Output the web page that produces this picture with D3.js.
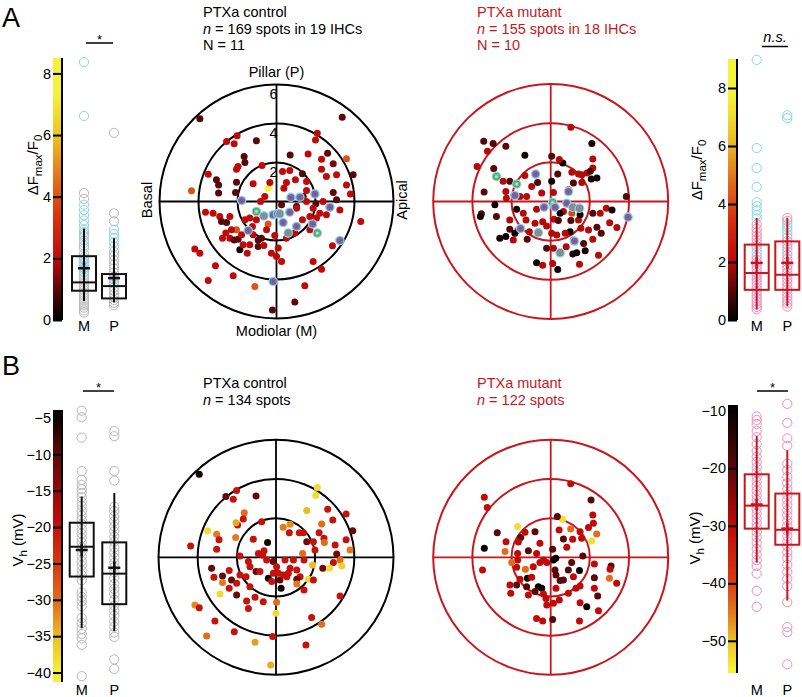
<!DOCTYPE html>
<html><head><meta charset="utf-8">
<script src="https://cdn.jsdelivr.net/npm/d3@7/dist/d3.min.js"></script>
<style>body{margin:0;background:#fff} svg text{font-family:"Liberation Sans",Arial,sans-serif}</style>
</head><body><svg id="c" width="802" height="697"></svg>
<script>
// ---------------- DATA ----------------
const boxCategories = ["M", "P"];
const dfTicks = [0, 2, 4, 6, 8];
const vhTicksCtrl = [-5, -10, -15, -20, -25, -30, -35, -40];
const vhTicksMut = [-10, -20, -30, -40, -50];
const ringValues = [2, 4, 6];

// box stats: [q1, median, q3, mean, whiskerLow, whiskerHigh]
const boxActrlM = [0.95, 1.22, 2.07, 1.68, 0.62, 2.97];
const boxActrlP = [0.70, 1.10, 1.49, 1.36, 0.57, 2.65];
const boxAmutM = [1.04, 1.62, 2.60, 1.97, 0.36, 3.52];
const boxAmutP = [1.04, 1.56, 2.71, 1.97, 0.47, 3.53];
const boxBctrlM = [-26.8, -22.7, -19.4, -23.15, -33.9, -15.8];
const boxBctrlP = [-30.6, -26.4, -22.1, -25.6, -34.3, -15.3];
const boxBmutM = [-30.5, -26.5, -21.05, -26.3, -36.4, -14.4];
const boxBmutP = [-33.3, -30.7, -24.4, -30.5, -43.0, -16.9];

// individual spots in box plots
const dfCtrlM_gray = [4.12, 3.93, 2.85, 2.72, 2.58, 2.41, 2.33, 2.15, 2.04, 1.95, 1.83, 1.7, 1.55, 1.46, 1.38, 1.3, 1.21, 1.12, 1.04, 0.96, 0.88, 0.8, 0.72, 0.64, 0.55, 0.47, 0.4, 0.31, 0.24];
const dfCtrlM_cyan = [8.37, 6.62, 3.74, 3.57, 3.4, 3.23, 3.08, 2.93, 2.78, 2.5, 1.98, 1.86, 1.76, 1.64, 1.55];
const dfCtrlP_gray = [6.07, 3.46, 3.2, 2.22, 2.08, 1.94, 1.8, 1.67, 1.54, 1.42, 1.3, 1.18, 1.06, 0.95, 0.84, 0.74, 0.65, 0.56, 0.48];
const dfCtrlP_cyan = [2.93, 2.79, 2.66, 2.52, 2.38, 1.35, 1.23];
const dfMutM_pink = [3.3, 3.15, 3.02, 2.9, 2.78, 2.66, 2.55, 2.2, 2.08, 1.97, 1.85, 1.74, 1.63, 1.52, 1.41, 1.3, 1.19, 1.08, 0.97, 0.86, 0.75, 0.64, 0.54, 0.45, 0.37];
const dfMutM_cyan = [8.97, 5.93, 5.24, 4.59, 4.06, 3.92, 3.78, 3.62, 3.5, 2.45, 2.32];
const dfMutP_pink = [3.52, 3.42, 2.85, 2.72, 2.6, 2.48, 2.25, 2.12, 2.0, 1.88, 1.76, 1.64, 1.52, 1.4, 1.28, 1.16, 1.04, 0.92, 0.8, 0.68, 0.57, 0.46];
const dfMutP_cyan = [7.06, 6.96, 3.3, 3.2, 3.1, 2.96, 2.36];
const vhCtrlM = [-4.0, -4.9, -7.7, -12.3, -13.5, -14.2, -14.8, -15.3, -15.9, -16.5, -17.1, -17.8, -18.4, -19.0, -19.6, -20.3, -20.9, -21.5, -22.1, -22.8, -23.4, -24.0, -24.7, -25.3, -26.0, -26.6, -27.3, -29.0, -29.6, -30.2, -30.9, -32.5, -33.2, -34.0, -34.7, -35.3, -36.2, -40.5];
const vhCtrlP = [-6.8, -7.5, -12.3, -13.6, -17.2, -17.8, -18.5, -19.2, -19.9, -20.6, -21.3, -22.0, -22.8, -23.5, -24.2, -24.9, -25.5, -26.2, -27.0, -27.8, -28.5, -29.2, -30.0, -30.8, -31.5, -32.2, -33.0, -33.7, -34.5, -35.1, -38.2, -39.5];
const vhMutM = [-11.0, -11.6, -12.3, -13.5, -14.6, -15.8, -17.0, -18.0, -18.9, -19.8, -20.7, -21.5, -22.3, -23.1, -23.9, -24.7, -25.5, -26.3, -27.1, -27.9, -28.7, -29.5, -30.3, -31.1, -32.0, -33.0, -34.0, -35.0, -36.0, -37.0, -38.3, -41.3, -44.1];
const vhMutP = [-8.8, -12.1, -14.8, -16.1, -19.2, -20.3, -21.5, -22.6, -23.6, -24.6, -25.5, -26.4, -27.3, -28.2, -29.1, -30.0, -30.9, -31.8, -32.7, -33.6, -34.6, -35.6, -36.8, -38.0, -39.2, -40.5, -43.3, -47.6, -48.5, -54.1];

// polar spots: [x (µm, apical +), y (µm, pillar +), value]
const spotsActrl = [[-3.93,4.24,1],[3.37,4.32,1],[-2.02,3.37,2],[-2.56,3.08,2],[-2.17,2.96,2],[-1.03,3.11,1],[2.09,3.5,2],[2.0,3.16,2],[-1.66,2.31,1],[-1.62,2.0,1],[-1.97,1.79,2],[-2.05,1.66,2],[0.7,2.39,1],[1.62,2.43,2],[2.62,2.48,1],[3.59,2.19,4],[2.31,2.17,2],[2.91,1.93,1.3],[-0.74,1.85,2],[-3.5,1.4,2],[-3.08,1.11,1],[-2.97,0.85,1],[-2.97,0.43,1],[-2.05,0.99,1],[-2.1,0.46,1],[-1.2,0.91,2],[-0.43,0.68,8],[-0.34,0.97,2],[0.31,1.54,2],[0.68,1.59,2],[1.33,1.42,1],[0.97,1.11,2],[0.51,0.97,2],[0.38,0.68,2],[1.54,1.03,2],[2.31,1.66,2],[2.56,1.28,2],[3.08,1.37,2],[3.93,1.37,1],[3.59,0.85,2],[3.79,0.39,2],[2.91,0.46,1],[1.54,0.56,2],[-4.36,0.55,4],[-0.6,0.26,2],[-0.82,0.0,2],[0.26,-0.17,1],[1.03,-0.26,0.6],[1.37,0.26,1],[1.54,0.0,2],[2.02,-0.12,1],[2.39,0.0,2],[3.08,0.09,1],[3.25,-0.43,2],[1.88,-0.34,2],[2.22,-0.6,2],[2.05,-0.85,2],[1.71,-0.77,2],[2.56,-0.68,2],[4.32,-1.03,2],[-3.64,-0.55,2],[-3.25,-0.6,2],[-2.91,-0.77,2],[-2.82,-1.03,1],[-2.56,-1.08,1],[-2.39,-0.77,2],[-2.05,-1.45,4],[-2.31,-1.45,2],[-2.77,-1.88,2],[-1.97,-1.93,1],[-1.79,-1.71,2],[-1.62,-0.94,2],[-1.37,-0.85,2],[-1.03,-0.94,2],[-1.23,-1.28,2],[-0.77,-1.88,1],[-0.43,-1.15,4],[-0.51,-1.45,2],[-1.37,-2.22,2],[-0.94,-2.31,1],[-0.65,-2.26,2],[-1.88,-2.48,0.2],[-1.5,-2.65,2],[-0.09,-1.74,2],[-0.26,-2.65,2],[0.0,-2.82,2],[0.26,-3.08,2],[0.09,-2.39,2],[0.51,-1.88,2],[0.94,-1.62,2],[1.71,-1.45,2],[1.88,-3.08,2],[2.87,-2.27,2],[2.31,-3.47,2],[-4.19,-2.44,2],[-3.93,-2.65,2],[-3.13,-3.3,2],[-2.22,-3.81,2],[-3.5,-4.05,2],[-1.11,-4.36,4],[-0.21,-5.56,1],[0.94,-5.16,1],[1.45,-4.32,2],[1.03,-0.34,2],[1.33,-0.94,2],[-2.6,-1.62,2],[-2.39,-1.88,2],[-2.17,-1.97,1],[-1.71,-2.22,2],[-1.2,-1.71,2],[-0.94,-1.97,1]];
const ringsActrl = [[-1.79,0.05,0],[0.74,0.21,0],[1.2,0.22,0],[1.97,0.39,0],[2.74,-0.29,0],[-0.17,-0.68,0],[0.05,-0.63,0],[0.34,-1.08,0],[0.68,-0.55,0],[1.03,-1.28,0],[1.85,-1.15,0],[-1.45,-1.49,0],[3.25,-2.0,0],[-0.17,-4.1,0],[-1.03,-0.51,1],[2.09,-1.62,1],[-0.65,-0.74,2],[0.6,-1.62,2],[0.17,-0.63,2]];
const spotsAmut = [[1.03,3.79,2],[-3.42,3.08,1],[-2.94,2.96,1],[-3.23,2.56,2],[-2.29,2.82,1],[-1.32,2.36,0.2],[0.05,2.31,1],[0.62,1.97,0.2],[0.44,2.14,2],[2.1,2.96,0.2],[2.15,2.17,2],[-3.76,1.79,2],[-2.91,1.68,1],[2.15,1.71,2],[1.85,1.45,2],[2.02,1.54,1],[2.36,1.2,0.2],[2.07,1.15,0.2],[1.59,1.37,2],[1.42,1.4,2],[1.08,1.49,2],[1.16,0.94,1],[1.59,0.97,2],[0.91,0.6,2],[0.36,1.4,1],[-0.67,0.97,1],[-1.32,1.33,2],[-0.97,0.77,2],[0.05,1.03,0.2],[0.14,0.46,2],[-0.46,0.43,2],[-1.23,0.26,2],[-1.57,0.26,2],[-2.09,1.03,1],[-2.43,1.03,2],[-2.29,0.51,2],[-2.26,0.17,2],[-3.4,0.48,1],[-2.85,-0.17,0.2],[-3.54,-0.63,1],[-3.59,-0.77,0.2],[-2.77,-0.77,1],[-1.74,-0.39,0.2],[-2.09,-0.94,2],[-1.4,-0.6,2],[-1.26,-0.94,2],[-1.66,-1.45,2],[-2.09,-1.42,1],[-2.6,-1.88,0.2],[-2.29,-1.79,0.2],[-1.83,-1.62,0.2],[-1.91,-1.97,2],[-1.2,-1.93,1],[-1.09,-1.54,2],[-0.72,-0.39,2],[-0.8,-1.11,2],[-0.41,-1.03,2],[-0.21,-1.25,2],[0.17,-0.91,2],[0.39,-0.97,1],[0.65,-0.51,2],[0.48,-0.6,0.2],[1.08,-0.6,4],[1.03,-0.97,1],[1.42,-0.94,2],[1.5,-0.68,0.2],[1.54,-1.37,2],[0.99,-1.54,0.2],[1.16,-1.97,2],[0.74,-1.62,2],[0.31,-1.71,2],[0.05,-1.62,2],[-0.21,-2.39,1],[0.14,-2.39,2],[0.79,-2.31,2],[1.76,-2.51,0.2],[1.13,-2.68,0.2],[1.33,-2.62,0.2],[2.44,-2.74,2],[1.68,-2.14,1],[-0.72,-3.13,0.2],[-0.41,-3.25,2],[0.1,-3.16,2],[0.36,-3.47,0.2],[1.47,-3.21,2],[2.84,-0.34,2],[3.13,-0.43,0.2],[3.01,-1.08,2],[3.38,-1.33,2],[2.53,-0.6,2],[2.58,-1.62,1],[2.15,-1.93,2],[2.36,-1.32,1],[1.93,-1.45,2],[3.86,0.26,1],[2.15,-0.6,1]];
const ringsAmut = [[-2.77,1.28,1],[-1.74,0.89,1],[0.1,-0.05,1],[-0.77,1.4,0],[-1.83,0.31,0],[0.91,0.51,0],[-0.34,-0.29,0],[0.22,-0.29,0],[0.82,-0.09,0],[3.95,-0.8,0],[-1.54,-1.38,0],[1.21,-2.02,0],[1.13,-0.29,2],[1.47,-0.34,2],[-0.63,-1.59,2],[0.48,-2.62,2]];
const spotsBctrl = [[-3.92,4.24,-5],[-2.01,3.41,-20],[-2.56,3.1,-11],[-2.18,2.96,-20],[-1.02,3.13,-11],[2.11,3.56,-38],[2.03,3.15,-38],[2.64,2.45,-20],[1.57,2.39,-35],[3.58,2.21,-20],[2.9,1.91,-20],[2.33,1.7,-30],[2.2,1.26,-20],[2.45,0.97,-20],[2.47,0.75,-30],[3.92,1.35,-11],[3.58,0.89,-20],[3.78,0.37,-31],[3.02,0.63,-20],[3.1,0.17,-12],[3.27,-0.14,-30],[2.93,-0.27,-20],[2.39,-0.56,-12],[2.73,-0.56,-38],[3.36,-0.44,-37],[1.87,-0.39,-35],[1.57,0.8,-12],[1.91,0.8,-20],[1.99,0.37,-20],[1.36,0.2,-30],[1.43,-0.14,-20],[1.4,1.26,-20],[1.19,1.26,-20],[0.68,1.26,-20],[0.37,1.53,-31],[0.72,1.69,-32],[-0.73,1.82,-20],[-0.43,0.75,-5],[-1.62,2.28,-30],[-1.67,1.96,-20],[-1.96,1.65,-20],[-2.04,1.77,-34],[-2.06,1.01,-31],[-3.03,1.18,-31],[-2.91,0.89,-20],[-3.03,0.41,-20],[-3.49,1.36,-38],[-4.36,0.58,-20],[-1.16,0.92,-20],[-0.61,0.34,-20],[-0.68,0.12,-20],[-1.84,0.07,-20],[-1.33,-0.48,-20],[-1.41,-0.22,-20],[-1.02,-0.73,-11],[-0.82,-0.73,-20],[-0.14,-0.22,-11],[0.03,-0.48,-20],[-0.14,-0.82,-20],[-0.39,-1.07,-5],[0.2,-1.16,-11],[0.26,-1.58,-5],[0.37,-0.9,-20],[0.72,-0.56,-20],[1.06,-0.65,-20],[1.23,-0.99,-20],[1.06,-1.12,-12],[1.65,-1.12,-38],[1.91,-1.16,-20],[1.06,-1.36,-31],[1.43,-1.67,-20],[-3.29,-0.56,-11],[-2.39,-0.68,-20],[-3.17,-1.02,-20],[-2.73,-0.95,-11],[-2.73,-1.29,-31],[-2.27,-1.16,-11],[-1.84,-0.9,-20],[-2.01,-1.33,-20],[-2.39,-1.58,-20],[-2.86,-1.87,-38],[-2.01,-1.93,-11],[-1.33,-1.5,-20],[-1.07,-2.04,-20],[-1.5,-2.23,-20],[-1.41,-2.61,-20],[-0.65,-2.27,-20],[0.03,-2.3,-30],[0.0,-2.86,-38],[-4.14,-2.44,-32],[-3.92,-2.57,-20],[-3.12,-3.25,-20],[-2.13,-3.8,-20],[-3.54,-4.02,-30],[-1.07,-4.34,-33],[-0.17,-4.05,-20],[-0.27,-5.5,-34],[1.53,-4.48,-20],[1.82,-3.07,-20],[2.33,-3.42,-30],[3.27,-1.98,-20],[0.46,-0.14,-20],[0.63,-0.82,-20],[0.89,-0.14,-20],[-0.9,0.2,-20],[-0.48,-0.14,-20],[0.12,-0.82,-20],[0.55,-0.99,-20],[-0.22,-1.24,-20],[-1.53,-0.99,-20]];
const spotsBmut = [[1.02,3.75,-30],[-3.39,3.07,-30],[-3.24,2.54,-30],[2.06,2.93,-20],[2.15,2.16,-30],[2.18,1.74,-30],[1.93,1.52,-30],[2.35,1.19,-44],[2.1,0.83,-53],[1.5,1.31,-30],[1.58,0.97,-30],[0.61,1.94,-53],[0.34,2.08,-20],[0.43,1.4,-30],[1.02,1.45,-44],[0.65,0.94,-20],[1.12,0.92,-30],[0.82,0.51,-30],[1.64,0.07,-20],[2.23,-0.34,-30],[3.08,-0.44,-20],[3.03,-0.61,-30],[3.0,-1.07,-44],[3.37,-1.33,-30],[2.23,-1.04,-20],[2.4,-1.98,-20],[2.44,-2.73,-30],[1.84,-2.52,-10],[1.5,-2.32,-30],[2.23,-1.58,-30],[1.5,-1.47,-30],[1.29,-1.58,-30],[0.9,-1.84,-30],[0.44,-2.18,-30],[0.14,-2.35,-30],[-0.2,-2.44,-30],[-0.24,-2.1,-30],[0.27,-1.58,-30],[1.47,-0.68,-10],[1.07,-0.27,-20],[0.9,-0.65,-20],[1.16,-0.99,-30],[0.65,-1.16,-20],[0.48,-1.19,-20],[0.27,-0.9,-20],[0.22,-0.65,-20],[0.14,-0.14,-10],[0.26,-0.05,-10],[0.1,0.41,-20],[-0.2,-0.27,-30],[-0.37,-0.14,-30],[-0.55,0.72,-30],[-0.72,0.2,-30],[-1.14,0.34,-20],[-1.53,1.01,-20],[-1.65,0.78,-30],[-1.69,0.2,-30],[-1.69,-0.14,-30],[-1.74,-0.51,-30],[-1.29,-0.61,-44],[-1.19,-1.07,-10],[-0.97,-1.02,-30],[-1.57,-1.12,-30],[-1.74,-1.41,-20],[-1.23,-1.5,-20],[-0.63,-1.5,-10],[-0.46,-1.58,-10],[-0.8,-1.75,-20],[-1.14,-1.93,-30],[-0.37,-1.87,-30],[-2.08,-1.41,-30],[-2.04,-1.84,-30],[-0.8,1.31,-20],[-1.31,1.28,-30],[-2.28,0.8,-30],[-2.73,1.26,-20],[-1.69,1.57,-53],[-2.33,0.29,-44],[-1.99,-0.27,-44],[-3.39,0.46,-10],[-3.48,-0.65,-30],[-0.72,-3.12,-30],[-0.41,-3.25,-30],[0.1,-3.17,-20],[1.47,-3.25,-30],[-0.55,-0.27,-30],[-0.89,-0.48,-30]];

// ---------------- STYLE ----------------
const svg = d3.select("#c");
const FF = '"Liberation Sans",Arial,sans-serif';
const RED = "#c8161d";
const cmapColors = ["#000000", "#5a0808", "#c00a0a", "#d83410", "#e2761a", "#ecc224", "#f4f23a"];
function makeCmap(stops, vBlack, vYellow) {
  const s = d3.scaleLinear().domain(stops).range(cmapColors).clamp(true);
  return v => s((v - vBlack) / (vYellow - vBlack));
}
const cmapAL = makeCmap([0, 0.12, 0.235, 0.40, 0.55, 0.70, 0.86], 0, 8.5);
const cmapAR = makeCmap([0, 0.12, 0.235, 0.40, 0.55, 0.70, 0.86], 0, 9);
const cmapBL = makeCmap([0, 0.16, 0.40, 0.56, 0.72, 0.84, 0.97], -3.9, -41.3);
const cmapBR = makeCmap([0, 0.24, 0.45, 0.64, 0.77, 0.88, 0.99], -9, -55.6);

const defs = svg.append("defs");
let gid = 0;
function colorbar(x, w, y, ticks, cm) {
  const id = "g" + (gid++);
  const [r0, r1] = y.range(); // bottom, top
  const grad = defs.append("linearGradient").attr("id", id).attr("x1", 0).attr("y1", 0).attr("x2", 0).attr("y2", 1);
  d3.range(0, 61).forEach(i => {
    const v = y.invert(r1 + (r0 - r1) * i / 60);
    grad.append("stop").attr("offset", (i / 60)).attr("stop-color", cm(v));
  });
  svg.append("rect").attr("x", x).attr("y", r1).attr("width", w).attr("height", r0 - r1).attr("fill", `url(#${id})`);
  const ax = svg.append("g").attr("transform", `translate(${x + w},0)`)
    .call(d3.axisLeft(y).tickValues(ticks).tickSize(9).tickPadding(2).tickFormat(d3.format("d")));
  ax.select(".domain").remove();
  ax.selectAll(".tick line").attr("stroke", "#000").attr("stroke-width", 2);
  ax.selectAll(".tick text").attr("font-size", 14.5).attr("font-family", FF).attr("fill", "#000");
  svg.append("line").attr("x1", x + w).attr("x2", x + w).attr("y1", r1).attr("y2", r0).attr("stroke", "#000").attr("stroke-width", 2);
}

function boxplot(xs, y, stats, circleSets, stroke, labelY) {
  const bw = 24;
  boxCategories.forEach((c, i) => {
    const cx = xs(c);
    circleSets[i].forEach(([vals, col]) => {
      svg.append("g").selectAll("circle").data(vals).join("circle")
        .attr("cx", cx).attr("cy", d => y(d)).attr("r", 4.6)
        .attr("fill", "none").attr("stroke", col).attr("stroke-width", 1);
    });
  });
  boxCategories.forEach((c, i) => {
    const cx = xs(c);
    const [q1, med, q3, mean, wl, wh] = stats[i];
    svg.append("line").attr("x1", cx).attr("x2", cx).attr("y1", y(wl)).attr("y2", y(wh)).attr("stroke", stroke).attr("stroke-width", 2);
    svg.append("rect").attr("x", cx - bw / 2).attr("y", y(q3)).attr("width", bw).attr("height", y(q1) - y(q3))
      .attr("fill", "none").attr("stroke", stroke).attr("stroke-width", 2);
    svg.append("line").attr("x1", cx - bw / 2).attr("x2", cx + bw / 2).attr("y1", y(med)).attr("y2", y(med)).attr("stroke", stroke).attr("stroke-width", 2);
    svg.append("line").attr("x1", cx - 6).attr("x2", cx + 6).attr("y1", y(mean)).attr("y2", y(mean)).attr("stroke", stroke).attr("stroke-width", 2.5);
    svg.append("line").attr("x1", cx).attr("x2", cx).attr("y1", y(mean) - 6).attr("y2", y(mean) + 6).attr("stroke", stroke).attr("stroke-width", 2.5);
    svg.append("text").attr("x", cx).attr("y", labelY).attr("text-anchor", "middle").attr("font-size", 14.5).attr("font-family", FF).text(c);
  });
}

function sig(x1, x2, yl, label, italic) {
  svg.append("line").attr("x1", x1).attr("x2", x2).attr("y1", yl).attr("y2", yl).attr("stroke", "#000").attr("stroke-width", 1.5);
  const t = svg.append("text").attr("x", (x1 + x2) / 2).attr("text-anchor", "middle").attr("font-family", FF);
  if (italic) t.attr("y", yl - 5).attr("font-size", 14.5).attr("font-style", "italic").text(label);
  else t.attr("y", yl + 1).attr("font-size", 13).text(label);
}

function polar(cx, cy, r, col, spots, rings, cm) {
  const x = d3.scaleLinear().domain([-6, 6]).range([cx - r, cx + r]);
  const y = d3.scaleLinear().domain([-6, 6]).range([cy + r, cy - r]);
  const g = svg.append("g");
  g.selectAll("circle.ring").data(ringValues).join("circle").attr("cx", x(0)).attr("cy", y(0))
    .attr("r", d => x(d) - x(0)).attr("fill", "none").attr("stroke", col).attr("stroke-width", 2);
  g.append("line").attr("x1", x(-6)).attr("x2", x(6)).attr("y1", y(0)).attr("y2", y(0)).attr("stroke", col).attr("stroke-width", 1.8);
  g.append("line").attr("x1", x(0)).attr("x2", x(0)).attr("y1", y(-6)).attr("y2", y(6)).attr("stroke", col).attr("stroke-width", 1.8);
  g.append("g").selectAll("circle").data(spots).join("circle")
    .attr("cx", d => x(d[0])).attr("cy", d => y(d[1])).attr("r", 3.5).attr("fill", d => cm(d[2]));
  const mid = ["#76689e", "#52c878", "#7c9c90"], inner = ["#d0306a", "#e8f040", "#c87040"];
  const hg = g.append("g").selectAll("g").data(rings).join("g").attr("transform", d => `translate(${x(d[0])},${y(d[1])})`);
  hg.append("circle").attr("r", 4.8).attr("fill", "#8ecfe8");
  hg.append("circle").attr("r", 3.5).attr("fill", "#5a78b8");
  hg.append("circle").attr("r", 2.9).attr("fill", d => mid[d[2]]);
  hg.append("circle").attr("r", 1.3).attr("fill", d => inner[d[2]]);
  return { x, y };
}

function title(x, y0, lines, col) {
  lines.forEach((ln, i) => {
    const t = svg.append("text").attr("x", x).attr("y", y0 + i * 16.5).attr("font-size", 14.5).attr("font-family", FF).attr("fill", col);
    if (ln.startsWith("n =")) { t.append("tspan").attr("font-style", "italic").text("n"); t.append("tspan").text(ln.slice(1)); }
    else t.text(ln);
  });
}

function dfLabel(x, yc) {
  const t = svg.append("text").attr("transform", `translate(${x},${yc}) rotate(-90)`).attr("text-anchor", "middle").attr("font-size", 15).attr("font-family", FF);
  t.append("tspan").text("ΔF");
  t.append("tspan").attr("font-size", 11.5).attr("dy", 4).text("max");
  t.append("tspan").attr("dy", -4).text("/F");
  t.append("tspan").attr("font-size", 11.5).attr("dy", 4).text("0");
}
function vhLabel(x, yc) {
  const t = svg.append("text").attr("transform", `translate(${x},${yc}) rotate(-90)`).attr("text-anchor", "middle").attr("font-size", 15).attr("font-family", FF);
  t.append("tspan").text("V");
  t.append("tspan").attr("font-size", 11.5).attr("dy", 4).text("h");
  t.append("tspan").attr("dy", -4).text(" (mV)");
}

// ---------------- PANEL A ----------------
svg.append("text").attr("x", 2).attr("y", 27).attr("font-size", 27).attr("font-family", FF).text("A");
svg.append("text").attr("x", 2).attr("y", 375).attr("font-size", 27).attr("font-family", FF).text("B");

const yAL = d3.scaleLinear().domain([0, 8.5]).range([320, 58]);
colorbar(53, 9, yAL, dfTicks, cmapAL);
dfLabel(38, 165);
const xAL = d3.scalePoint().domain(boxCategories).range([84, 114]);
boxplot(xAL, yAL, [boxActrlM, boxActrlP],
  [[[dfCtrlM_gray, "#b8b8b8"], [dfCtrlM_cyan, "#88d6ea"]], [[dfCtrlP_gray, "#b8b8b8"], [dfCtrlP_cyan, "#88d6ea"]]], "#111", 331);
sig(86, 113, 43, "*", false);

const yAR = d3.scaleLinear().domain([0, 9]).range([320, 59]);
colorbar(728, 9, yAR, dfTicks, cmapAR);
dfLabel(702, 170);
const xAR = d3.scalePoint().domain(boxCategories).range([756.7, 787.3]);
boxplot(xAR, yAR, [boxAmutM, boxAmutP],
  [[[dfMutM_pink, "#f28cc0"], [dfMutM_cyan, "#88d6ea"]], [[dfMutP_pink, "#f28cc0"], [dfMutP_cyan, "#88d6ea"]]], RED, 331);
sig(762, 788, 46.5, "n.s.", true);

title(203, 17, ["PTXa control", "n = 169 spots in 19 IHCs", "N = 11"], "#000");
title(477, 17, ["PTXa mutant", "n = 155 spots in 18 IHCs", "N = 10"], RED);

const pA = polar(276.5, 201.5, 117, "#000", spotsActrl, ringsActrl, cmapAL);
ringValues.forEach(v => {
  svg.append("text").attr("x", pA.x(0) + 1).attr("y", pA.y(v) + 14).attr("text-anchor", "end").attr("font-size", 14.5).attr("font-family", FF).text(v);
});
svg.append("text").attr("x", 276.5).attr("y", 77).attr("text-anchor", "middle").attr("font-size", 14.5).attr("font-family", FF).text("Pillar (P)");
svg.append("text").attr("x", 276.5).attr("y", 336).attr("text-anchor", "middle").attr("font-size", 14.5).attr("font-family", FF).text("Modiolar (M)");
svg.append("text").attr("transform", "translate(152,200) rotate(-90)").attr("text-anchor", "middle").attr("font-size", 14.5).attr("font-family", FF).text("Basal");
svg.append("text").attr("transform", "translate(407,200) rotate(-90)").attr("text-anchor", "middle").attr("font-size", 14.5).attr("font-family", FF).text("Apical");

polar(550.7, 201.5, 117.5, RED, spotsAmut, ringsAmut, cmapAR);

// ---------------- PANEL B ----------------
const yBL = d3.scaleLinear().domain([-41.3, -3.9]).range([682, 410]);
colorbar(53, 9, yBL, vhTicksCtrl, cmapBL);
vhLabel(23, 540);
const xBL = d3.scalePoint().domain(boxCategories).range([81.7, 114.3]);
boxplot(xBL, yBL, [boxBctrlM, boxBctrlP], [[[vhCtrlM, "#b8b8b8"]], [[vhCtrlP, "#b8b8b8"]]], "#111", 695);
sig(83, 114, 391, "*", false);

const yBR = d3.scaleLinear().domain([-55.6, -9]).range([673, 405]);
colorbar(728, 9, yBR, vhTicksMut, cmapBR);
vhLabel(700, 538);
const xBR = d3.scalePoint().domain(boxCategories).range([756.7, 787.3]);
boxplot(xBR, yBR, [boxBmutM, boxBmutP], [[[vhMutM, "#f28cc0"]], [[vhMutP, "#f28cc0"]]], RED, 695);
sig(757, 788, 391, "*", false);

title(203, 388, ["PTXa control", "n = 134 spots"], "#000");
title(477, 388, ["PTXa mutant", "n = 122 spots"], RED);

polar(276, 557.3, 117.5, "#000", spotsBctrl, [], cmapBL);
polar(550.7, 557.3, 117.5, RED, spotsBmut, [], cmapBR);
</script></body></html>
